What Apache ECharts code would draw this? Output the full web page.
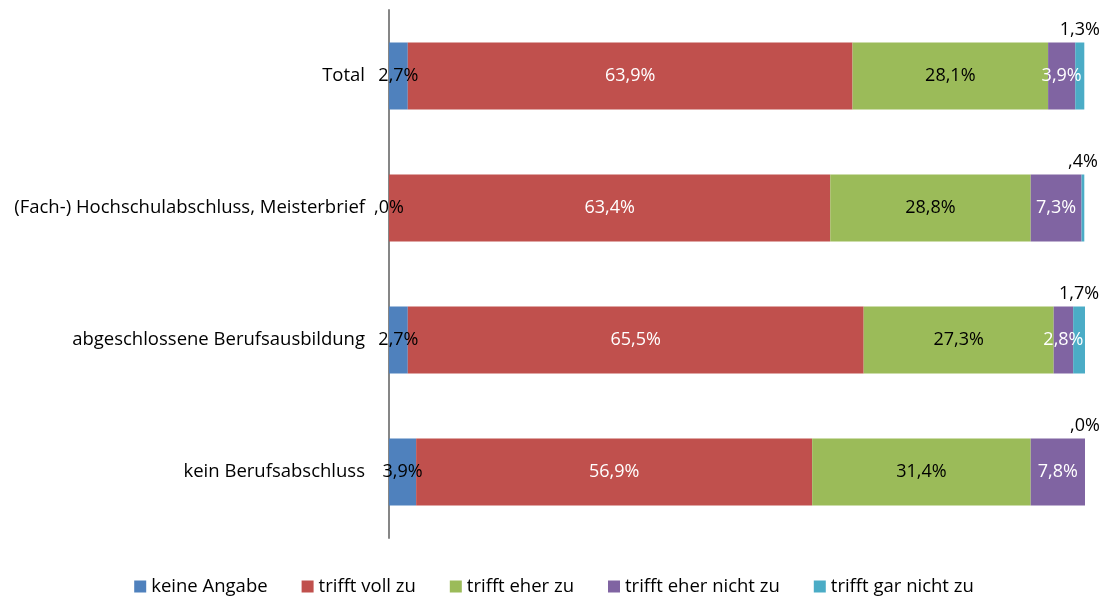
<!DOCTYPE html>
<html><head><meta charset="utf-8">
<script src="https://cdn.jsdelivr.net/npm/echarts@6/dist/echarts.min.js"></script>
<style>html,body{margin:0;padding:0;background:#fff}#c{width:1108px;height:601px}</style>
</head><body><div id="c"></div>
<script>
const categories = ['Total', '(Fach-) Hochschulabschluss, Meisterbrief', 'abgeschlossene Berufsausbildung', 'kein Berufsabschluss'];
const seriesNames = ['keine Angabe', 'trifft voll zu', 'trifft eher zu', 'trifft eher nicht zu', 'trifft gar nicht zu'];
const keineAngabe = [2.7, 0.0, 2.7, 3.9];
const trifftVoll = [63.9, 63.4, 65.5, 56.9];
const trifftEher = [28.1, 28.8, 27.3, 31.4];
const trifftEherNicht = [3.9, 7.3, 2.8, 7.8];
const trifftGarNicht = [1.3, 0.4, 1.7, 0.0];
const colors = ['#4F81BD', '#C0504D', '#9BBB59', '#8064A2', '#4BACC6'];
const labelColors = ['#000', '#fff', '#000', '#fff', '#000'];

const fmt = v => {
  const s = v.toFixed(1).replace('.', ',');
  return (s.startsWith('0,') ? s.slice(1) : s) + '%';
};

const allData = [keineAngabe, trifftVoll, trifftEher, trifftEherNicht, trifftGarNicht];
const font = '"Open Sans", "Noto Sans", sans-serif';

const chart = echarts.init(document.getElementById('c'), null, {renderer: 'canvas'});
chart.setOption({
  animation: false,
  color: colors,
  textStyle: {fontFamily: font},
  grid: {left: 389, right: 23, top: 10, bottom: 63, containLabel: false},
  xAxis: {type: 'value', min: 0, max: 100, show: false},
  yAxis: {
    type: 'category', data: categories, inverse: true,
    axisLine: {show: true, lineStyle: {color: '#868686', width: 2}},
    axisTick: {show: false},
    axisLabel: {color: '#000', fontSize: 18.5, margin: 24, fontFamily: font}
  },
  legend: {
    bottom: 0, left: 'center', itemWidth: 12, itemHeight: 12, itemGap: 34,
    icon: 'rect',
    textStyle: {fontSize: 18.5, color: '#000', fontFamily: font},
    data: seriesNames
  },
  series: seriesNames.map((n, i) => ({
    name: n, type: 'bar', stack: 'total', barWidth: 67,
    data: allData[i],
    itemStyle: {color: colors[i]},
    label: {
      show: true,
      position: i === 4 ? 'top' : 'inside',
      distance: i === 4 ? 4 : 5,
      color: labelColors[i],
      fontSize: 18,
      fontFamily: font,
      formatter: p => fmt(p.value)
    }
  }))
});
</script></body></html>
